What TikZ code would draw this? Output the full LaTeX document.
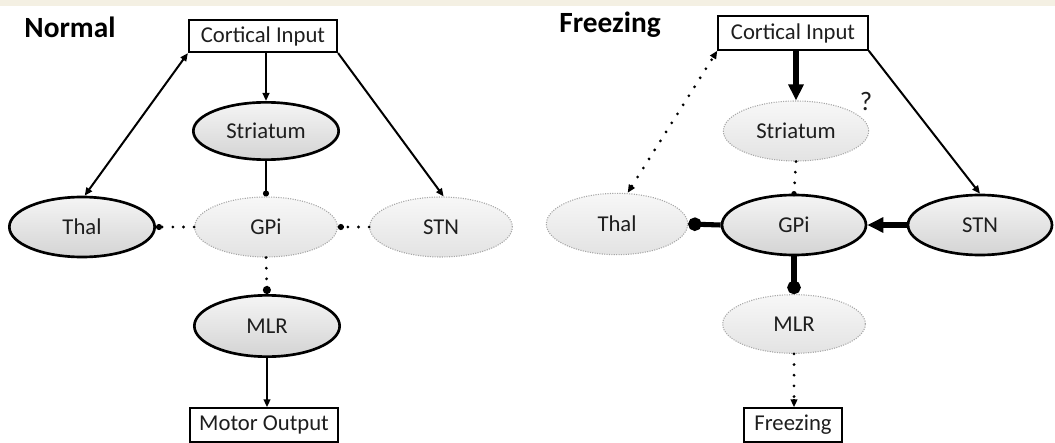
\documentclass[tikz,border=0pt]{standalone}
\usepackage{fontspec}
\setmainfont{Carlito}
\usetikzlibrary{arrows.meta,shapes.geometric,calc}

\definecolor{band}{HTML}{F4F0E3}
\definecolor{txt}{HTML}{1E1E1E}

\tikzset{
  lbl/.style={font=\fontsize{17}{20}\selectfont, text=txt},
  title/.style={font=\fontsize{22}{26}\selectfont\bfseries, text=black},
  boxnode/.style={lbl, draw=black, line width=1.6pt, fill=white, inner sep=0pt},
  region/.style={lbl, ellipse, inner sep=0pt, minimum width=109pt, minimum height=45pt},
  active/.style={region, draw=black, line width=2pt, top color=gray!8, bottom color=gray!34},
  quiet/.style={region, draw=gray!70, line width=0.8pt, densely dotted, top color=gray!6, bottom color=gray!22},
  thin/.style={line width=1.5pt, draw=black},
  thick/.style={line width=3.8pt, draw=black},
  dots/.style={line width=2.3pt, draw=black, line cap=round, dash pattern=on 0pt off 8pt},
  small arrow/.style={-{Triangle[length=6pt,width=5pt]}},
  small dot/.style={-{Circle[length=4.5pt]}},
  mid dot/.style={-{Circle[length=6pt]}},
  big dot/.style={-{Circle[length=10pt]}},
  big arrow/.style={-{Triangle[length=12pt,width=11pt]}},
}

\begin{document}
\begin{tikzpicture}[x=0.75pt, y=-0.75pt]
  % page frame and the pale strip along the top edge
  \useasboundingbox (0,0) rectangle (1055,442);
  \fill[white] (0,0) rectangle (1055,442);
  \fill[band] (0,0) rectangle (1055,6);

  % ---------------- Normal ----------------
  \node[title] (tn) at (70,27) {Normal};
  \node[boxnode, minimum width=111pt, minimum height=24pt] (ci1) at (263,36) {Cortical Input};
  \node[active, minimum height=43pt] (str1) at (266,131) {Striatum};
  \node[quiet, minimum width=107pt] (gpi1) at (266,227) {GPi};
  \node[active] (thal1) at (82,227) {Thal};
  \node[quiet, minimum width=107pt] (stn1) at (441,227) {STN};
  \node[active, minimum height=46pt] (mlr1) at (267,326) {MLR};
  \node[boxnode, minimum width=111pt, minimum height=25pt] (mo1) at (264,425) {Motor Output};

  \coordinate (t1) at ([xshift=2pt]thal1.north);
  \draw[thin, small arrow] (ci1.south -| str1.north) -- (str1.north);
  \draw[thin, {Triangle[length=6pt,width=5pt]}-{Triangle[length=6pt,width=5pt]}] (t1) -- (ci1.south west);
  \draw[thin, small arrow] (ci1.south east) -- ([xshift=2pt]stn1.north);
  \draw[thin, small dot] (str1.south) -- (gpi1.north);
  % dotted inhibitory links, each ending in a dot
  \draw[dots, shorten >=4pt] (gpi1.west) -- (thal1.east);
  \draw[thin, small dot] ($(thal1.east)!4.5pt!(gpi1.west)$) -- (thal1.east);
  \draw[dots, shorten >=4pt] (stn1.west) -- (gpi1.east);
  \draw[thin, small dot] ($(gpi1.east)!4.5pt!(stn1.west)$) -- (gpi1.east);
  \draw[dots, shorten >=5pt] (gpi1.south) -- (mlr1.north);
  \draw[thin, mid dot] ($(mlr1.north)!6pt!(gpi1.south)$) -- (mlr1.north);
  \draw[thin, small arrow] (mlr1.south) -- (mlr1.south |- mo1.north);

  % ---------------- Freezing ----------------
  \node[title] (tf) at (610,25) {Freezing};
  \node[boxnode, minimum width=112pt, minimum height=25pt] (ci2) at (793,33) {Cortical Input};
  \node[quiet] (str2) at (796,131) {Striatum};
  \node[active, minimum width=108pt] (gpi2) at (794,225) {GPi};
  \node[quiet, minimum width=106pt, minimum height=46pt] (thal2) at (617,224) {Thal};
  \node[active, minimum width=108pt] (stn2) at (980,225) {STN};
  \node[quiet, minimum width=107pt, minimum height=44pt] (mlr2) at (794,324) {MLR};
  \node[boxnode, minimum width=74pt, minimum height=25pt] (fr2) at (793,425) {Freezing};
  \node[lbl, font=\fontsize{20}{22}\selectfont] (q) at (866,101) {?};

  \coordinate (t2) at ([xshift=8pt]thal2.north);
  \coordinate (f2) at (mlr2.south |- fr2.north);
  \draw[thick, big arrow] (ci2.south -| str2.north) -- (str2.north);
  % weakened two-way link between thalamus and cortex
  \draw[dots, shorten >=6pt, shorten <=6pt] (t2) -- (ci2.south west);
  \draw[thin, small arrow] ($(ci2.south west)!6pt!(t2)$) -- (ci2.south west);
  \draw[thin, small arrow] ($(t2)!6pt!(ci2.south west)$) -- (t2);
  \draw[thin, small arrow] (ci2.south east) -- (stn2.north);
  \draw[dots] (str2.south) -- (gpi2.north);
  \fill (gpi2.north) circle (2pt);
  \draw[thick, big dot] (gpi2.west) -- (thal2.east);
  \draw[thick, big arrow] (stn2.west) -- (gpi2.east);
  \draw[thick, big dot] (gpi2.south) -- (mlr2.north);
  \draw[dots, shorten >=6pt] (mlr2.south) -- (f2);
  \draw[thin, small arrow] ($(f2)!6pt!(mlr2.south)$) -- (f2);
\end{tikzpicture}
\end{document}
